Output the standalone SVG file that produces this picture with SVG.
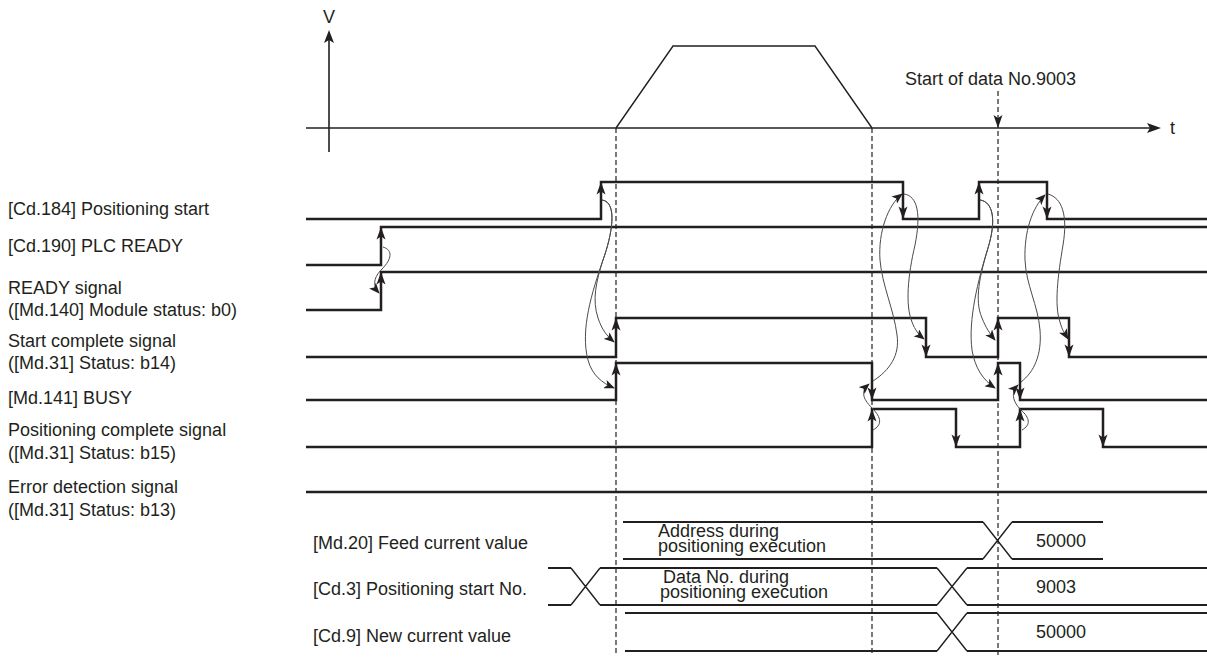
<svg xmlns="http://www.w3.org/2000/svg" xmlns:xlink="http://www.w3.org/1999/xlink" width="1207" height="660" viewBox="0 0 1207 660">
<style>
text{font-family:"Liberation Sans",Arial,sans-serif;font-size:18px;fill:#231f20}
.sig{fill:none;stroke:#231f20;stroke-width:2.5;stroke-linejoin:miter}
.ax{fill:none;stroke:#231f20;stroke-width:1.6}
.thin{fill:none;stroke:#231f20;stroke-width:1.4}
.dat{fill:none;stroke:#231f20;stroke-width:1.8}
.dash{fill:none;stroke:#231f20;stroke-width:1.2;stroke-dasharray:5 3}
.cv{fill:none;stroke:#4a4a4a;stroke-width:1;marker-end:url(#ca)}
.ah{fill:#231f20}
</style>
<defs>
<path id="up" d="M0,0 L4.5,12.5 L0,9.5 L-4.5,12.5 Z"/>
<path id="dn" d="M0,0 L4.5,-12.5 L0,-9.5 L-4.5,-12.5 Z"/>
<marker id="ca" viewBox="0 0 12 10" refX="11" refY="5" markerWidth="11" markerHeight="9" markerUnits="userSpaceOnUse" orient="auto"><path d="M0,0 L12,5 L0,10 L3,5 Z" fill="#231f20"/></marker>
</defs>
<rect width="1207" height="660" fill="#fff"/>

<g id="axes">
<line class="ax" x1="329" y1="40" x2="329" y2="152"/>
<path class="ah" d="M329,30 L334,43 L329,40 L324,43 Z"/>
<line class="ax" x1="306" y1="128" x2="1152" y2="128"/>
<path class="ah" d="M1161,128 L1147,133 L1150,128 L1147,123 Z"/>
<text x="329" y="23" text-anchor="middle">V</text>
<text x="1170" y="134">t</text>
<polyline class="thin" points="616,128 673,46 815,46 872,128"/>
</g>

<g id="markers">
<line class="dash" x1="616" y1="128" x2="616" y2="655"/>
<line class="dash" x1="872" y1="128" x2="872" y2="655"/>
<line class="dash" x1="998" y1="91" x2="998" y2="655"/>
<path class="ah" d="M998,128 L993.5,115 L998,118 L1002.5,115 Z"/>
<text x="905" y="85">Start of data No.9003</text>
</g>

<g id="labels">
<text x="8" y="215">[Cd.184] Positioning start</text>
<text x="8" y="252">[Cd.190] PLC READY</text>
<text x="8" y="294">READY signal</text>
<text x="8" y="316">([Md.140] Module status: b0)</text>
<text x="8" y="347">Start complete signal</text>
<text x="8" y="369">([Md.31] Status: b14)</text>
<text x="8" y="404">[Md.141] BUSY</text>
<text x="8" y="436">Positioning complete signal</text>
<text x="8" y="459">([Md.31] Status: b15)</text>
<text x="8" y="493">Error detection signal</text>
<text x="8" y="516">([Md.31] Status: b13)</text>
</g>

<g id="sig-cd184">
<path class="sig" d="M306,219 H601 V182 H903 V219 H979 V182 H1047 V219 H1207"/>
<use href="#up" x="601" y="182" class="ah"/>
<use href="#dn" x="903" y="219" class="ah"/>
<use href="#up" x="979" y="182" class="ah"/>
<use href="#dn" x="1047" y="219" class="ah"/>
</g>
<g id="sig-cd190">
<path class="sig" d="M306,265 H381 V227 H1207"/>
<use href="#up" x="381" y="227" class="ah"/>
</g>
<g id="sig-ready">
<path class="sig" d="M306,310 H381 V272 H1207"/>
<use href="#up" x="381" y="272" class="ah"/>
</g>
<g id="sig-startcomplete">
<path class="sig" d="M306,357 H616 V318 H926 V357 H998 V318 H1069 V357 H1207"/>
<use href="#up" x="616" y="318" class="ah"/>
<use href="#dn" x="926" y="357" class="ah"/>
<use href="#up" x="998" y="318" class="ah"/>
<use href="#dn" x="1069" y="357" class="ah"/>
</g>
<g id="sig-busy">
<path class="sig" d="M306,400 H616 V363 H872 V400 H998 V363 H1020 V400 H1207"/>
<use href="#up" x="616" y="363" class="ah"/>
<use href="#dn" x="872" y="400" class="ah"/>
<use href="#up" x="998" y="363" class="ah"/>
<use href="#dn" x="1020" y="400" class="ah"/>
</g>
<g id="sig-poscomplete">
<path class="sig" d="M306,447 H872 V409 H956 V447 H1020 V409 H1103 V447 H1207"/>
<use href="#up" x="872" y="409" class="ah"/>
<use href="#dn" x="956" y="447" class="ah"/>
<use href="#up" x="1020" y="409" class="ah"/>
<use href="#dn" x="1103" y="447" class="ah"/>
</g>
<g id="sig-error">
<path class="sig" d="M306,492 H1207"/>
</g>

<g id="connectors">
<path class="cv" d="M383,247 C393,250 392,259 382,269 C374,277 372,285 379,293"/>
<path class="cv" d="M602,200 C618,202 612,235 603,260 C596,282 592,300 598,318 C602,330 607,336 614,342"/>
<path class="cv" d="M602,200 C618,202 612,235 603,260 C592,292 580,330 588,360 C592,375 602,383 614,388"/>
<path class="cv" d="M873,381 C890,370 900,355 897,335 C894,310 882,285 880,260 C878,232 888,205 902,194"/>
<path class="cv" d="M904,194 C918,196 921,215 915,245 C908,275 905,305 912,322 C915,330 919,335 924,339"/>
<path class="cv" d="M873,430 C882,425 882,418 872,408 C862,398 861,391 869,384"/>
<path class="cv" d="M980,200 C994,202 996,222 988,248 C980,275 974,300 982,318 C986,328 990,334 995,340"/>
<path class="cv" d="M980,200 C994,202 996,222 988,248 C978,280 968,320 972,350 C975,368 983,380 995,388"/>
<path class="cv" d="M1021,382 C1034,372 1042,355 1040,330 C1038,305 1026,285 1025,260 C1024,232 1032,208 1045,195"/>
<path class="cv" d="M1048,194 C1062,198 1068,215 1063,245 C1058,275 1054,305 1060,322 C1062,330 1065,334 1068,339"/>
<path class="cv" d="M1022,430 C1031,425 1030,418 1021,410 C1012,401 1011,392 1018,385"/>
</g>

<g id="data-md20">
<text x="313" y="549">[Md.20] Feed current value</text>
<path class="dat" d="M623,522 H983 M623,559 H983 M1012,522 H1103 M1012,559 H1103"/>
<path class="thin" d="M983,522 L1012,559 M983,559 L1012,522"/>
<text x="658" y="537">Address during</text>
<text x="658" y="552">positioning execution</text>
<text x="1036" y="547">50000</text>
</g>
<g id="data-cd3">
<text x="313" y="595">[Cd.3] Positioning start No.</text>
<path class="dat" d="M548,568 H571 M548,605 H571 M600,568 H937 M600,605 H937 M967,568 H1207 M967,605 H1207"/>
<path class="thin" d="M571,568 L600,605 M571,605 L600,568 M937,568 L967,605 M937,605 L967,568"/>
<text x="663" y="583">Data No. during</text>
<text x="660" y="598">positioning execution</text>
<text x="1036" y="593">9003</text>
</g>
<g id="data-cd9">
<text x="313" y="642">[Cd.9] New current value</text>
<path class="dat" d="M625,613 H937 M625,651 H937 M967,613 H1207 M967,651 H1207"/>
<path class="thin" d="M937,613 L967,651 M937,651 L967,613"/>
<text x="1036" y="638">50000</text>
</g>
</svg>
